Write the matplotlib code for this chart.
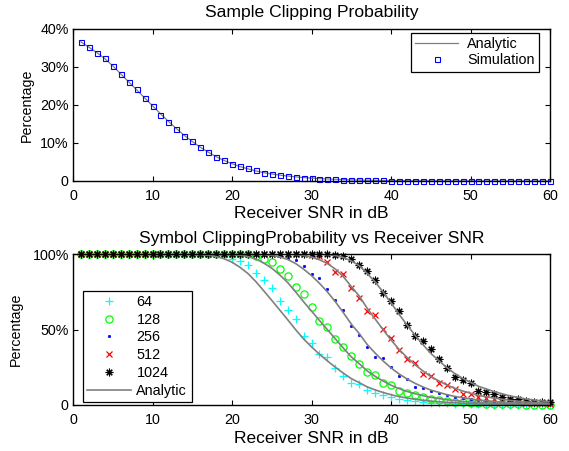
import matplotlib
matplotlib.use('Agg')
import matplotlib.pyplot as plt
import numpy as np

plt.rcParams['font.family'] = ['Liberation Sans', 'DejaVu Sans']

# receiver SNR grid in dB
snr_db = np.arange(1, 61)

# sample clipping probability, percent
sample_sim = [36.5, 35.3, 33.8, 32.3, 30.2, 28.1, 26.0, 24.1, 21.9, 19.8,
              17.5, 15.6, 13.8, 11.8, 10.4, 9.0, 7.6, 6.4, 5.5, 4.5,
              3.9, 3.3, 2.8, 2.2, 1.9, 1.65, 1.4, 1.1, 0.9, 0.75,
              0.64, 0.53, 0.45, 0.37, 0.30, 0.25, 0.20, 0.17, 0.14, 0.11,
              0.09, 0.075, 0.06, 0.05, 0.04, 0.034, 0.028, 0.023, 0.019, 0.016,
              0.013, 0.011, 0.009, 0.0075, 0.006, 0.005, 0.004, 0.0033, 0.0027, 0.0022]
sample_ana = [36.6, 35.2, 33.8, 32.2, 30.3, 28.2, 26.1, 24.0, 21.9, 19.8,
              17.7, 15.7, 13.8, 12.0, 10.4, 8.9, 7.6, 6.4, 5.4, 4.55,
              3.8, 3.2, 2.65, 2.2, 1.85, 1.55, 1.3, 1.08, 0.9, 0.76,
              0.64, 0.54, 0.45, 0.37, 0.30, 0.25, 0.20, 0.165, 0.135, 0.11,
              0.09, 0.074, 0.061, 0.05, 0.041, 0.034, 0.028, 0.023, 0.019, 0.016,
              0.013, 0.011, 0.009, 0.0075, 0.006, 0.005, 0.004, 0.0033, 0.0027, 0.0022]

# symbol clipping probability (simulation), percent
sym_64 = [100.0] * 18 + [99.2, 96.8, 95.3, 92.5, 87.5, 82.6, 77.2, 69.2, 63.2, 57.0,
                         45.9, 40.9, 33.6, 31.8, 24.3, 18.9, 14.7, 14.0, 10.2, 8.0,
                         6.5, 5.5, 3.9, 3.0, 2.4, 2.0, 1.6, 1.3, 1.0, 0.8,
                         0.6, 0.5, 0.4, 0.35, 0.3, 0.25, 0.2, 0.15, 0.12, 0.1, 0.08, 0.06]
sym_128 = [100.0] * 22 + [98.5, 97.0, 94.5, 89.8, 85.6, 78.1, 73.5, 65.0, 55.9, 51.5,
                          43.5, 38.6, 32.2, 27.0, 21.8, 19.6, 14.8, 13.1, 9.6, 7.8,
                          6.9, 5.4, 4.3, 3.4, 2.7, 2.1, 1.7, 1.3, 1.0, 0.8,
                          0.65, 0.5, 0.4, 0.35, 0.3, 0.25, 0.2, 0.15]
sym_256 = [100.0] * 25 + [99.0, 97.6, 95.8, 91.8, 87.0, 83.8, 76.5, 69.3, 62.6, 52.1,
                          46.3, 38.6, 31.9, 31.3, 25.2, 19.2, 17.3, 12.2, 11.2, 9.3,
                          7.8, 6.6, 5.0, 4.4, 3.8, 3.3, 2.5, 2.0, 1.6, 1.3,
                          1.0, 0.8, 0.6, 0.5, 0.4]
sym_512 = [100.0] * 29 + [99.5, 98.5, 94.5, 88.4, 87.0, 77.3, 70.7, 62.1, 59.6, 50.5,
                          44.1, 36.1, 30.2, 28.0, 20.6, 19.0, 14.5, 13.0, 10.6, 7.6,
                          7.6, 5.5, 4.8, 3.8, 3.0, 2.5, 2.0, 1.6, 1.3, 1.0, 0.8]
sym_1024 = [100.0] * 32 + [99.5, 98.5, 96.8, 92.5, 88.5, 82.5, 74.1, 69.2, 62.0, 52.7,
                           45.4, 42.4, 37.3, 30.5, 24.7, 18.6, 16.8, 14.9, 9.4, 8.3,
                           7.3, 5.1, 4.2, 3.8, 2.4, 2.2, 2.0, 2.1]

# symbol clipping probability (analytic), percent
ana_64 = [100.0] * 14 + [99.87, 99.67, 99.23, 98.34, 96.85, 94.56, 91.2, 87.1, 81.7, 75.6,
                         69.3, 62.9, 56.5, 49.9, 43.8, 38.5, 33.6, 29.2, 25.0, 21.1,
                         17.5, 14.8, 12.0, 10.0, 8.3, 6.8, 5.6, 4.6, 3.8, 3.15,
                         2.6, 2.15, 1.78, 1.46, 1.21, 1.02, 0.83, 0.70, 0.57, 0.48,
                         0.38, 0.32, 0.26, 0.21, 0.17, 0.14]
ana_128 = [100.0] * 16 + [99.99, 99.97, 99.9, 99.7, 99.23, 98.34, 96.66, 94.0, 90.6, 86.2,
                          81.1, 74.9, 68.4, 62.2, 56.0, 49.9, 43.8, 37.7, 31.9, 27.4,
                          22.6, 19.0, 15.9, 13.1, 10.9, 9.0, 7.5, 6.2, 5.1, 4.3,
                          3.5, 2.9, 2.4, 2.0, 1.65, 1.4, 1.15, 0.96, 0.77, 0.64,
                          0.51, 0.42, 0.35, 0.28]
ana_256 = [100.0] * 20 + [99.99, 99.97, 99.89, 99.64, 99.11, 98.1, 96.4, 93.7, 90.0, 85.7,
                          80.6, 74.9, 68.4, 61.2, 53.6, 47.3, 40.1, 34.4, 29.2, 24.6,
                          20.6, 17.3, 14.4, 12.0, 9.9, 8.4, 6.9, 5.7, 4.8, 4.0,
                          3.3, 2.8, 2.3, 1.9, 1.5, 1.27, 1.02, 0.84, 0.69, 0.56]
ana_512 = [100.0] * 24 + [99.99, 99.96, 99.87, 99.6, 99.0, 97.95, 96.2, 93.7, 90.0, 85.0,
                          78.5, 72.2, 64.1, 57.0, 49.9, 43.1, 36.9, 31.6, 26.8, 22.6,
                          18.9, 16.0, 13.3, 11.1, 9.3, 7.8, 6.4, 5.4, 4.5, 3.8,
                          3.0, 2.5, 2.0, 1.7, 1.4, 1.1]
ana_1024 = [100.0] * 28 + [99.99, 99.96, 99.86, 99.6, 99.0, 97.7, 95.4, 92.3, 87.1, 81.5,
                           74.9, 67.6, 60.2, 53.1, 46.4, 40.1, 34.2, 29.4, 24.9, 20.9,
                           17.7, 15.0, 12.4, 10.6, 8.8, 7.4, 6.0, 5.0, 4.0, 3.3,
                           2.7, 2.2]

fft_sizes = ['64', '128', '256', '512', '1024']
top_yticks = [0, 10, 20, 30, 40]
top_ylabels = ['0', '10%', '20%', '30%', '40%']
bot_yticks = [0, 50, 100]
bot_ylabels = ['0', '50%', '100%']
x_ticks = [0, 10, 20, 30, 40, 50, 60]

grey = '#808080'
W, H = 569, 451

fig = plt.figure(figsize=(W / 100, H / 100), dpi=100)
ax1 = fig.add_axes([73 / W, 1 - 181 / H, 477 / W, 152 / H])
ax2 = fig.add_axes([73 / W, 1 - 405 / H, 477 / W, 151 / H])


def matlab_style(ax):
    for s in ax.spines.values():
        s.set_linewidth(1.0)
    ax.tick_params(direction='in', top=True, right=True, length=3.5, width=0.8,
                   labelsize=10.3)
    ax.tick_params(axis='x', pad=5.5)
    ax.tick_params(axis='y', pad=3)
    ax.set_xlim(0, 60)
    ax.set_xticks(x_ticks)


# ---- top: sample clipping
matlab_style(ax1)
l_ana, = ax1.plot(snr_db, sample_ana, '-', color=grey, lw=0.9)
l_sim, = ax1.plot(snr_db, sample_sim, 's', mfc='none', mec='#0000ff', ms=3.6, mew=0.8,
                  clip_on=False)
ax1.set_ylim(0, 40)
ax1.set_yticks(top_yticks)
ax1.set_yticklabels(top_ylabels)
ax1.set_title('Sample Clipping Probability', fontsize=12.6, pad=8.5)
ax1.set_xlabel('Receiver SNR in dB', fontsize=12.5)
ax1.set_ylabel('Percentage', fontsize=10.3)
ax1.xaxis.set_label_coords(0.5, -0.165)
ax1.yaxis.set_label_coords(-0.083, 0.5)
leg1 = ax1.legend([l_ana, l_sim], ['Analytic', 'Simulation'], loc='upper right',
                  bbox_to_anchor=(539 / W, 1 - 33 / H), bbox_transform=fig.transFigure,
                  borderaxespad=0, fancybox=False, edgecolor='black', framealpha=1,
                  fontsize=10.4, handlelength=3.0, labelspacing=0.15, borderpad=0.3,
                  handletextpad=0.6)
leg1.get_frame().set_linewidth(0.9)

# ---- bottom: symbol clipping
matlab_style(ax2)
sims = [sym_64, sym_128, sym_256, sym_512, sym_1024]
anas = [ana_64, ana_128, ana_256, ana_512, ana_1024]
styles = [dict(marker='+', color='#00ffff', ms=5.5, mew=0.9),
          dict(marker='o', color='#00ff00', ms=5.2, mew=0.9, mfc='none'),
          dict(marker='.', color='#0000ff', ms=3.5, mew=0.5),
          dict(marker='x', color='#ff0000', ms=4.5, mew=0.9),
          dict(marker=(8, 2, 0), color='black', ms=5.5, mew=0.8)]
handles = []
for vals, st in zip(sims, styles):
    h, = ax2.plot(snr_db, vals, ls='none', clip_on=False, **st)
    handles.append(h)
for vals in anas:
    la, = ax2.plot(snr_db, vals, '-', color=grey, lw=1.2)
handles.append(la)
ax2.set_ylim(0, 100)
ax2.set_yticks(bot_yticks)
ax2.set_yticklabels(bot_ylabels)
ax2.set_title('Symbol ClippingProbability vs Receiver SNR', fontsize=12.6, pad=8)
ax2.set_xlabel('Receiver SNR in dB', fontsize=12.5)
ax2.set_ylabel('Percentage', fontsize=10.3)
ax2.xaxis.set_label_coords(0.5, -0.172)
ax2.yaxis.set_label_coords(-0.105, 0.5)
leg2 = ax2.legend(handles, fft_sizes + ['Analytic'], loc='lower left',
                  bbox_to_anchor=(83 / W, 1 - 402 / H), bbox_transform=fig.transFigure,
                  borderaxespad=0, fancybox=False, edgecolor='black', framealpha=1,
                  fontsize=10.4, handlelength=3.0, labelspacing=0.26, borderpad=0.3,
                  handletextpad=0.4)
leg2.get_frame().set_linewidth(0.9)

fig.savefig('out.png', dpi=100)
